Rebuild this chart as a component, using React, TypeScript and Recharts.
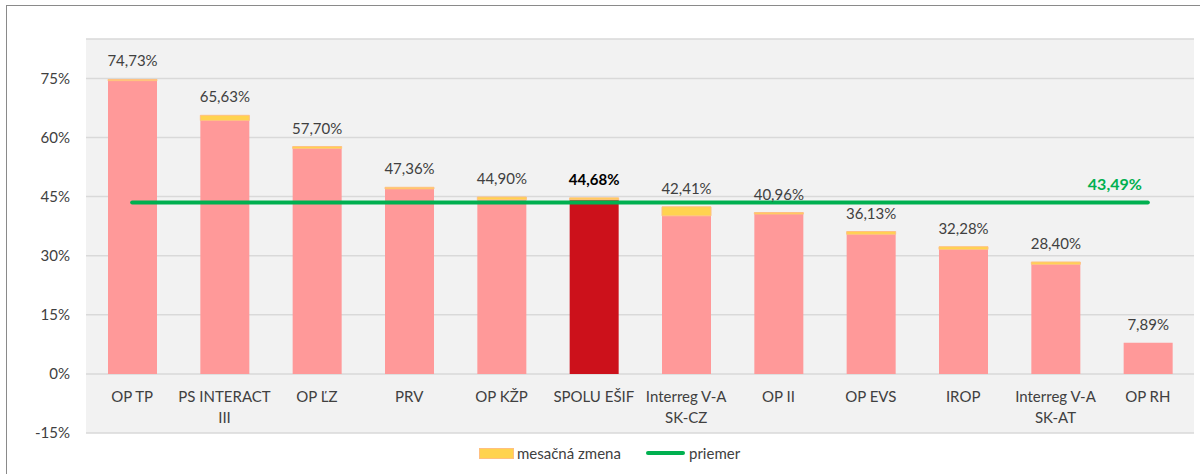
import React from 'react';
import { ComposedChart, Bar, Line, XAxis, YAxis, CartesianGrid, Cell, LabelList } from 'recharts';

const categories = ['OP TP', 'PS INTERACT\nIII', 'OP ĽZ', 'PRV', 'OP KŽP', 'SPOLU EŠIF', 'Interreg V-A\nSK-CZ', 'OP II', 'OP EVS', 'IROP', 'Interreg V-A\nSK-AT', 'OP RH'];
const totals = [74.73, 65.63, 57.7, 47.36, 44.9, 44.68, 42.41, 40.96, 36.13, 32.28, 28.4, 7.89];
const monthlyChange = [0.3, 1.3, 0.5, 0.4, 0.7, 0.5, 2.3, 0.4, 0.7, 0.7, 0.6, 0];
const average = 43.49;
const yTicks = [-15, 0, 15, 30, 45, 60, 75];
const totalIndex = 5;

const FONT = 'Lato, "Open Sans", sans-serif';
const TEXT = '#404040';

const fmt = (v: number) => v.toFixed(2).replace('.', ',') + '%';

const data = categories.map((name, i) => ({
    name,
    base: +(totals[i] - monthlyChange[i]).toFixed(2),
    change: monthlyChange[i],
    avg: average,
}));

const XTick = (props: any) => {
    const { x, y, payload } = props;
    const lines = String(payload.value).split('\n');
    return (
        <text x={x} y={y} textAnchor="middle" fill={TEXT} fontSize={15} fontFamily={FONT}>
            {lines.map((l, i) => (
                <tspan key={i} x={x} dy={i === 0 ? -31 : 21}>{l}</tspan>
            ))}
        </text>
    );
};

// label sits on the base bar, lifted by the height of the monthly change on top of it
const barLabel = (props: any) => {
    const { x, y, width, height, index } = props;
    const d = data[index];
    const top = y - (d.base ? (height * d.change) / d.base : 0);
    const bold = index === totalIndex;
    return (
        <text x={x + width / 2} y={top - 13} textAnchor="middle" fontSize={15} fontFamily={FONT}
            fontWeight={bold ? 700 : 400} fill={bold ? '#000' : TEXT}>
            {fmt(totals[index])}
        </text>
    );
};

const avgLabel = (props: any) => {
    const { x, y, index } = props;
    if (index !== categories.length - 1) return null;
    return (
        <text x={x - 6} y={y - 13} textAnchor="end" fontSize={16} fontFamily={FONT} fontWeight={700} fill="#00B050">
            {fmt(average)}
        </text>
    );
};

const App: React.FC = () => {
    return (
        <div style={{ position: 'absolute', left: 0, top: 0, width: 1200, height: 474, background: '#fff', overflow: 'hidden', fontFamily: FONT }}>
            <div style={{ position: 'absolute', left: 6, top: 5, width: 1210, height: 490, border: '1.5px solid #8a8a8a' }} />
            <ComposedChart width={1200} height={474} data={data} margin={{ top: 39, right: 6, left: 0, bottom: 0 }}>
                <CartesianGrid vertical={false} fill="#F2F2F2" stroke="#D9D9D9" strokeWidth={1.5} />
                <XAxis dataKey="name" interval={0} height={41} axisLine={false} tickLine={false} tickSize={0} tickMargin={0} tick={<XTick />} />
                <YAxis width={86} domain={[-15, 85]} ticks={yTicks} allowDataOverflow axisLine={false} tickLine={false}
                    tickSize={0} tickMargin={16} tickFormatter={(v: number) => `${v}%`}
                    tick={{ fill: TEXT, fontSize: 15, fontFamily: FONT }} />
                <Bar dataKey="base" stackId="a" barSize={49} fill="#FF9999" isAnimationActive={false}>
                    {data.map((_, i) => (
                        <Cell key={i} fill={i === totalIndex ? '#CC111B' : '#FF9999'} />
                    ))}
                    <LabelList dataKey="base" content={barLabel} />
                </Bar>
                <Bar dataKey="change" stackId="a" barSize={49} fill="#FFD34F" stroke="#FFC080" strokeWidth={1} isAnimationActive={false} />
                <Line type="linear" dataKey="avg" stroke="#00B050" strokeWidth={4} strokeLinecap="round" dot={false} activeDot={false} isAnimationActive={false}>
                    <LabelList dataKey="avg" content={avgLabel} />
                </Line>
            </ComposedChart>
            <div style={{ position: 'absolute', top: 444, left: 0, width: 1200, height: 20, fontSize: 15, color: TEXT }}>
                <div style={{ position: 'absolute', left: 479, top: 4, width: 33, height: 9, background: '#FFD34F', border: '1px solid #FFC080' }} />
                <div style={{ position: 'absolute', left: 517, top: 0, lineHeight: '18px' }}>mesačná zmena</div>
                <div style={{ position: 'absolute', left: 646, top: 7, width: 39, height: 4, background: '#00B050', borderRadius: 2 }} />
                <div style={{ position: 'absolute', left: 689, top: 0, lineHeight: '18px' }}>priemer</div>
            </div>
        </div>
    );
};

export default App;
